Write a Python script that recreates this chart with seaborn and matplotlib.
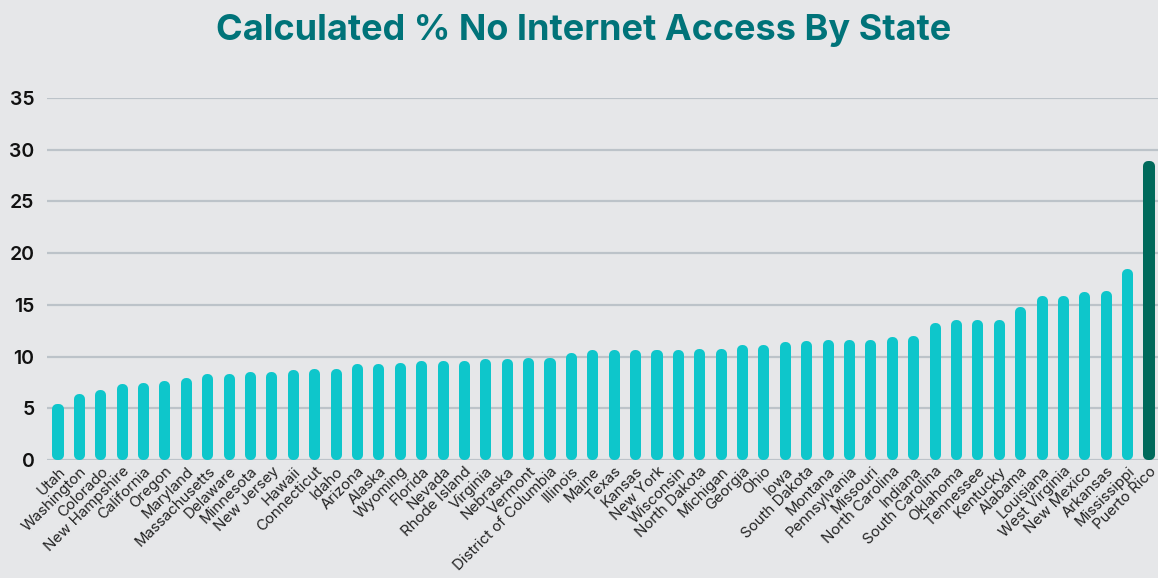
import matplotlib
matplotlib.use("Agg")
import matplotlib.pyplot as plt
import seaborn as sns
import pandas as pd

states = ["Utah", "Washington", "Colorado", "New Hampshire", "California", "Oregon",
          "Maryland", "Massachusetts", "Delaware", "Minnesota", "New Jersey", "Hawaii",
          "Connecticut", "Idaho", "Arizona", "Alaska", "Wyoming", "Florida", "Nevada",
          "Rhode Island", "Virginia", "Nebraska", "Vermont", "District of Columbia",
          "Illinois", "Maine", "Texas", "Kansas", "New York", "Wisconsin", "North Dakota",
          "Michigan", "Georgia", "Ohio", "Iowa", "South Dakota", "Montana", "Pennsylvania",
          "Missouri", "North Carolina", "Indiana", "South Carolina", "Oklahoma", "Tennessee",
          "Kentucky", "Alabama", "Louisiana", "West Virginia", "New Mexico", "Arkansas",
          "Mississippi", "Puerto Rico"]
pct_no_internet = [5.4, 6.4, 6.8, 7.3, 7.4, 7.6, 7.9, 8.3, 8.3, 8.5, 8.5, 8.7,
                   8.8, 8.8, 9.3, 9.3, 9.4, 9.6, 9.6, 9.6, 9.8, 9.8, 9.9, 9.9,
                   10.3, 10.6, 10.6, 10.6, 10.6, 10.6, 10.7, 10.7, 11.1, 11.1, 11.4,
                   11.5, 11.6, 11.6, 11.6, 11.9, 12.0, 13.2, 13.5, 13.5, 13.5, 14.8,
                   15.9, 15.9, 16.2, 16.3, 18.5, 28.9]
highlight = ["Puerto Rico"]
yticks = [0, 5, 10, 15, 20, 25, 30, 35]

BG = "#e6e7e9"
BAR = "#0ec6cb"
HIGH = "#006a5b"
TITLE = "#007379"
GRID = "#bcc3c9"

df = pd.DataFrame({"state": states, "pct": pct_no_internet})
df["group"] = ["high" if s in highlight else "normal" for s in states]

sns.set_theme(style="white")
plt.rcParams["font.family"] = ["Inter", "DejaVu Sans"]

fig = plt.figure(figsize=(11.58, 5.78), dpi=100, facecolor=BG)
ax = fig.add_axes([47 / 1158, 1 - 460 / 578, 1 - 47 / 1158, (460 - 98) / 578])
ax.set_facecolor(BG)

sns.barplot(data=df, x="state", y="pct", hue="group",
            palette={"normal": BAR, "high": HIGH}, dodge=False, saturation=1,
            width=0.05, legend=False, ax=ax, zorder=3)

# round caps: thick edge with round joins, shrink patch so ends land on value
px_per_unit = (460 - 98) / 35.0
cap_px = 5.0
r = cap_px / px_per_unit
for p in ax.patches:
    fc = p.get_facecolor()
    p.set_edgecolor(fc)
    p.set_linewidth(cap_px * 2 * 72 / 100)
    p.set_joinstyle("round")
    p.set_capstyle("round")
    h = p.get_height()
    p.set_y(r)
    p.set_height(max(h - 2 * r, 0.01))
    p.set_clip_on(False)

ax.set_ylim(0, 35)
ax.set_xlim(-0.514, len(states) - 1 + 0.42)
ax.set_yticks(yticks)
ax.set_yticklabels([str(t) for t in yticks], fontsize=14, fontweight="semibold", color="#111111")
ax.tick_params(axis="y", length=0, pad=9)
ax.tick_params(axis="x", length=0, pad=3)
ax.set_xticks(range(len(states)))
ax.set_xticklabels(states, rotation=45, ha="right", rotation_mode="anchor",
                   fontsize=10.8, color="#222222")
ax.yaxis.grid(True, color=GRID, linewidth=1.6, zorder=0)
ax.set_axisbelow(True)
for s in ax.spines.values():
    s.set_visible(False)
ax.set_xlabel("")
ax.set_ylabel("")

fig.text(0.504, 0.948, "Calculated % No Internet Access By State", ha="center", va="center",
         fontsize=26, fontweight="bold", color=TITLE)

fig.savefig("out.png", dpi=100, facecolor=BG)
